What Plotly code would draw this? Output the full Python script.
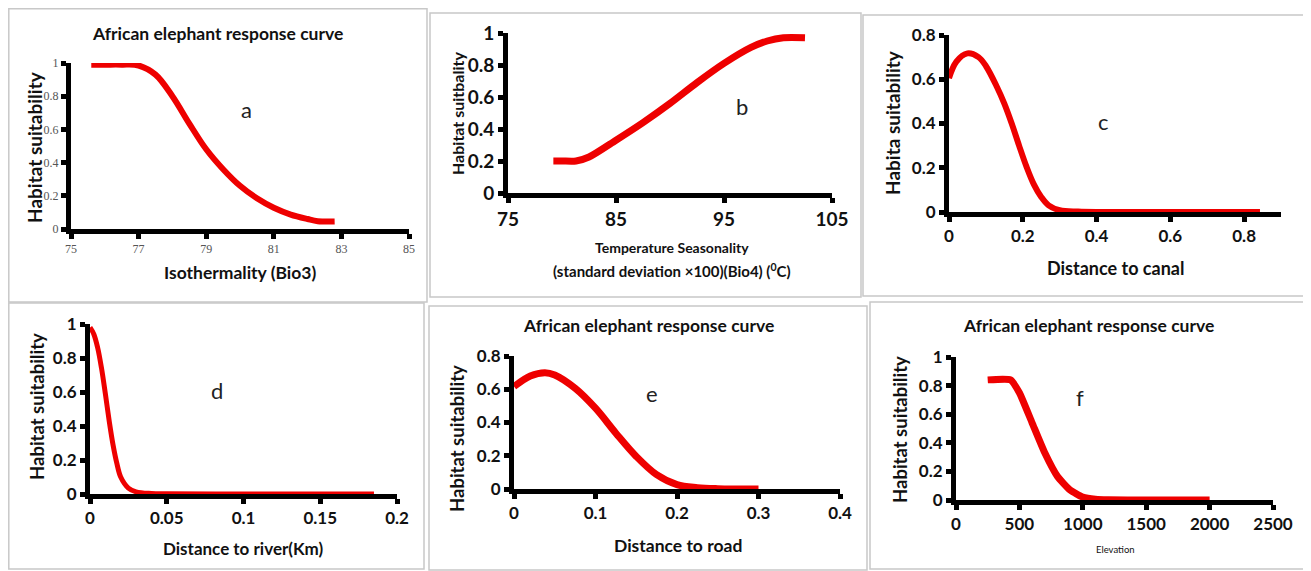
import plotly.graph_objects as go

# page has an 8px body margin, so the figure is drawn 8px in from the window edge
OFF = 8
W, H = 1311 - OFF, 571 - OFF

# ---- data ----
a_x = [75.6, 76.0, 76.5, 77.0, 77.5, 78.0, 78.5, 79.0, 79.5, 80.0, 80.5, 81.0, 81.5, 82.0, 82.3, 82.8]
a_y = [0.99, 0.99, 0.99, 0.985, 0.93, 0.80, 0.635, 0.48, 0.36, 0.26, 0.185, 0.128, 0.087, 0.06, 0.047, 0.045]

b_x = [79.2, 80.0, 81.3, 82.5, 85.0, 87.5, 90.0, 92.5, 95.0, 97.5, 99.0, 100.5, 102.5]
b_y = [0.2, 0.2, 0.2, 0.225, 0.33, 0.44, 0.56, 0.69, 0.81, 0.91, 0.95, 0.97, 0.97]

c_x = [0, 0.02, 0.05, 0.08, 0.10, 0.13, 0.15, 0.17, 0.19, 0.21, 0.23, 0.25, 0.27, 0.30, 0.35, 0.40, 0.50, 0.60, 0.70, 0.843]
c_y = [0.605, 0.68, 0.717, 0.70, 0.66, 0.565, 0.49, 0.40, 0.30, 0.205, 0.125, 0.068, 0.03, 0.008, 0.002, 0, 0, 0, 0, 0]

d_x = [0, 0.0025, 0.005, 0.0075, 0.01, 0.0125, 0.015, 0.0175, 0.02, 0.025, 0.03, 0.04, 0.05, 0.10, 0.15, 0.185]
d_y = [0.98, 0.94, 0.86, 0.74, 0.59, 0.43, 0.29, 0.18, 0.10, 0.035, 0.013, 0.003, 0.001, 0, 0, 0]

e_x = [0, 0.02, 0.038, 0.05, 0.075, 0.10, 0.125, 0.15, 0.175, 0.20, 0.225, 0.25, 0.30]
e_y = [0.616, 0.68, 0.70, 0.686, 0.606, 0.486, 0.336, 0.196, 0.086, 0.026, 0.008, 0.002, 0]

f_x = [250, 430, 500, 600, 700, 800, 900, 1000, 1100, 1200, 1500, 2000]
f_y = [0.84, 0.84, 0.75, 0.54, 0.33, 0.165, 0.07, 0.02, 0.005, 0.001, 0, 0]

ticks_a_x = [75, 77, 79, 81, 83, 85]
ticks_b_x = [75, 85, 95, 105]
ticks_c_x = [0, 0.2, 0.4, 0.6, 0.8]
ticks_d_x = [0, 0.05, 0.1, 0.15, 0.2]
ticks_e_x = [0, 0.1, 0.2, 0.3, 0.4]
ticks_f_x = [0, 500, 1000, 1500, 2000, 2500]
ticks_y1 = [0, 0.2, 0.4, 0.6, 0.8, 1]
ticks_y08 = [0, 0.2, 0.4, 0.6, 0.8]

title_text = "African elephant response curve"
RED = "#ee0000"
FONT = "Lato"


def px(x):
    return (x - OFF) / W


def py(y):
    return 1 - (y - OFF) / H


fig = go.Figure()

panels = [
    dict(n=1, x=a_x, y=a_y, xd=(71, 409), yd=(63, 229), xr=[75, 85], yr=[0, 1], sm=1.0,
         xt=ticks_a_x, yt=ticks_y1, tf=dict(family="Liberation Serif", size=12, color="#555"), lw=6),
    dict(n=2, x=b_x, y=b_y, xd=(508, 832), yd=(33, 193), xr=[75, 105], yr=[0, 1], sm=0.8,
         xt=ticks_b_x, yt=ticks_y1, tf=dict(family=FONT, size=19, color="#111", weight="bold"), lw=7),
    dict(n=3, x=c_x, y=c_y, xd=(949, 1281), yd=(35, 212), xr=[0, 0.9], yr=[0, 0.8], sm=1.0,
         xt=ticks_c_x, yt=ticks_y08, tf=dict(family=FONT, size=17, color="#111", weight="bold"), lw=6),
    dict(n=4, x=d_x, y=d_y, xd=(90, 397), yd=(324, 494), xr=[0, 0.2], yr=[0, 1], sm=1.0,
         xt=ticks_d_x, yt=ticks_y1, tf=dict(family=FONT, size=17, color="#111", weight="bold"), lw=5),
    dict(n=5, x=e_x, y=e_y, xd=(514, 840), yd=(356, 489), xr=[0, 0.4], yr=[0, 0.8], sm=1.0,
         xt=ticks_e_x, yt=ticks_y08, tf=dict(family=FONT, size=17, color="#111", weight="bold"), lw=7),
    dict(n=6, x=f_x, y=f_y, xd=(956, 1273), yd=(357, 500), xr=[0, 2500], yr=[0, 1], sm=0.45,
         xt=ticks_f_x, yt=ticks_y1, tf=dict(family=FONT, size=17, color="#111", weight="bold"), lw=7),
]

layout = dict(
    width=W, height=H, autosize=False,
    margin=dict(l=0, r=0, t=0, b=0, pad=0, autoexpand=False),
    paper_bgcolor="white", plot_bgcolor="white", showlegend=False,
    font=dict(family=FONT, color="#111"),
)

for p in panels:
    n = p["n"]
    sfx = "" if n == 1 else str(n)
    fig.add_trace(go.Scatter(
        x=p["x"], y=p["y"], mode="lines",
        line=dict(color=RED, width=p["lw"], shape="spline", smoothing=p["sm"]),
        xaxis="x" + sfx, yaxis="y" + sfx, cliponaxis=False, hoverinfo="skip"))
    common = dict(showgrid=False, zeroline=False, showline=True, linecolor="black",
                  linewidth=5, ticks="outside", ticklen=5, tickwidth=5, tickcolor="black",
                  tickfont=p["tf"], layer="below traces", fixedrange=True, automargin=False)
    layout["xaxis" + sfx] = dict(
        domain=[px(p["xd"][0]), px(p["xd"][1])], range=p["xr"], tickvals=p["xt"],
        ticktext=[f"{v:g}" for v in p["xt"]], anchor="y" + sfx, **common)
    layout["yaxis" + sfx] = dict(
        domain=[py(p["yd"][1]), py(p["yd"][0])], range=p["yr"], tickvals=p["yt"],
        ticktext=[f"{v:g}" for v in p["yt"]], anchor="x" + sfx, **common)

boxes = [(8.8, 8.8, 427, 302), (430, 13, 861, 297), (863, 15, 1306, 296),
         (8.8, 303, 424, 569), (429, 306, 867, 570), (870, 302, 1306, 569)]
shapes = []
for x0, y0, x1, y1 in boxes:
    shapes.append(dict(type="rect", xref="paper", yref="paper",
                       x0=px(x0), x1=px(x1), y0=py(y1), y1=py(y0),
                       line=dict(color="#c8c8c8", width=1.5), layer="below"))
layout["shapes"] = shapes

ann = []


def text(x, y, s, size, bold=True, angle=0, color="#111"):
    ann.append(dict(xref="paper", yref="paper", x=px(x), y=py(y), text=s, showarrow=False,
                    xanchor="center", yanchor="middle", textangle=angle,
                    font=dict(family=FONT, size=size, color=color,
                              weight="bold" if bold else "normal")))


# titles
text(217, 33, title_text, 17.5)
text(648, 325, title_text, 17.5)
text(1088, 325, title_text, 17.5)

# y axis titles
text(35, 147, "Habitat suitability", 19, angle=-90)
text(457, 113, "Habitat suitbality", 16, angle=-90)
text(892, 123, "Habita suitability", 19, angle=-90)
text(37, 407, "Habitat suitability", 18.5, angle=-90)
text(457, 438, "Habitat suitability", 18.5, angle=-90)
text(900, 430, "Habitat suitability", 18.5, angle=-90)

# x axis titles
text(240, 273, "Isothermality (Bio3)", 17.5)
text(672, 248, "Temperature Seasonality", 14)
text(672, 270, "(standard deviation ×100)(Bio4) (<sup>0</sup>C)", 15)
text(1115, 268, "Distance to canal", 18)
text(243, 548, "Distance to river(Km)", 17)
text(678, 545, "Distance to road", 17.5)
text(1115, 549, "Elevation", 9.5, bold=False)

letters = [("a", 80.2, 0.717, ""), ("b", 96.7, 0.54, "2"), ("c", 0.418, 0.407, "3"),
           ("d", 0.0827, 0.61, "4"), ("e", 0.169, 0.577, "5"), ("f", 978, 0.72, "6")]
for s, x, y, sfx in letters:
    ann.append(dict(xref="x" + sfx, yref="y" + sfx, x=x, y=y, text=s, showarrow=False,
                    font=dict(family=FONT, size=22, color="#222")))

layout["annotations"] = ann
fig.update_layout(**layout)
fig.write_html("out.html")
